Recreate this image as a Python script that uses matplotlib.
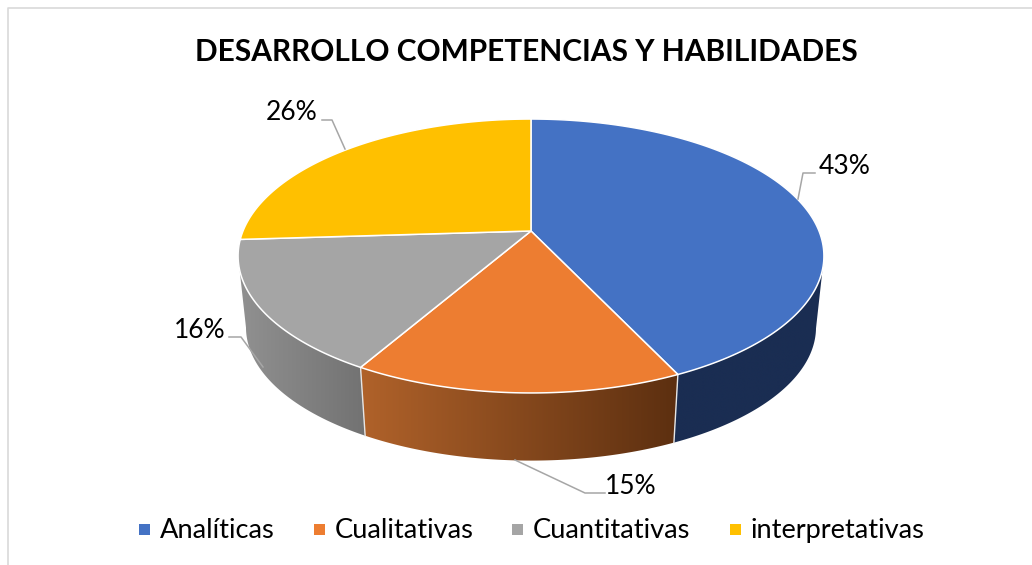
import numpy as np
import matplotlib
matplotlib.use("Agg")
import matplotlib.pyplot as plt
from matplotlib.colors import to_rgb
from matplotlib.patches import Polygon, Rectangle

title = "DESARROLLO COMPETENCIAS Y HABILIDADES"
categories = ["Analíticas", "Cualitativas", "Cuantitativas", "interpretativas"]
values = [43, 15.3, 15.7, 26]
colors = ["#4472c4", "#ed7d31", "#a5a5a5", "#ffc000"]
# side shading, left end and right end of each slice wall
side_left = ["#1a2d52", "#b0622a", "#919191", "#997300"]
side_right = ["#1a2d52", "#5c2f10", "#727272", "#997300"]

label_pos = [(845, 167), (631, 487), (200, 331), (292, 113)]
leaders = [
    [(815, 173), (803, 173), (798, 199)],
    [(605, 493), (585, 493), (515, 460)],
    [(229, 337), (241, 337), (263, 367)],
    [(322, 120), (332, 120), (345, 149)],
]
legend_x = [139, 314, 512, 730]

plt.rcParams['font.family'] = ['Lato', 'DejaVu Sans']

fig = plt.figure(figsize=(10.32, 5.65), dpi=100)
ax = fig.add_axes([0, 0, 1, 1])
ax.set_xlim(0, 1032)
ax.set_ylim(565, 0)
ax.axis('off')

# perspective projection of the pie disc
CX, CY = 531, 231
BX, BY = 288, 132.4
K = 0.1825
SHRINK = 0.973
BOTTOM_Y = 303


def top_rim(t):
    u, v = np.sin(t), np.cos(t)
    d = 1 + K * v
    return CX + BX * u / d, CY - BY * v / d


def low_rim(t):
    u, v = np.sin(t), np.cos(t)
    d = 1 + K * v
    return CX + BX * SHRINK * u / d, BOTTOM_Y - BY * SHRINK * v / d


fractions = np.cumsum([0] + values) / sum(values)
angles = fractions * 2 * np.pi

# walls first, the top is painted over them
# only the front part, cos(t) = -K is where the rim turns back
for i in [0, 1, 2]:
    ts = np.linspace(angles[i], angles[i + 1], 300)
    ts = ts[np.cos(ts) <= -K]
    xt, yt = top_rim(ts)
    xb, yb = low_rim(ts)
    pts = list(zip(xt, yt)) + list(zip(xb[::-1], yb[::-1]))
    wall = Polygon(pts, closed=True, facecolor='none', edgecolor='none', transform=ax.transData)
    ax.add_patch(wall)
    left = np.array(to_rgb(side_left[i]))
    right = np.array(to_rgb(side_right[i]))
    f = np.linspace(0, 1, 256)[:, None]
    grad = (left + (right - left) * f)[None, :, :]
    x_min, x_max = min(xt.min(), xb.min()), max(xt.max(), xb.max())
    y_min, y_max = min(yt.min(), yb.min()), max(yt.max(), yb.max())
    im = ax.imshow(grad, extent=(x_min, x_max, y_max, y_min), aspect='auto', zorder=1, interpolation='bilinear')
    im.set_clip_path(wall)
ax.set_xlim(0, 1032)
ax.set_ylim(565, 0)

# white seams down the wall
for a in angles[1:3]:
    xt, yt = top_rim(a)
    xb, yb = low_rim(a)
    ax.plot([xt, xb], [yt, yb], color='#e6e6e6', linewidth=1.0, zorder=2)

# top of the pie
for i in range(len(values)):
    ts = np.linspace(angles[i], angles[i + 1], 200)
    xt, yt = top_rim(ts)
    pts = [(CX, CY)] + list(zip(xt, yt))
    ax.add_patch(Polygon(pts, closed=True, facecolor=colors[i], edgecolor='white', linewidth=1.1,
                         joinstyle='round', zorder=3))

# labels and leader lines
for i in range(len(values)):
    px, py = zip(*leaders[i])
    ax.plot(px, py, color='#a6a6a6', linewidth=1.1, zorder=4)
    ax.text(label_pos[i][0], label_pos[i][1], "%.0f%%" % values[i], fontsize=19, color='black', ha='center', va='center')

ax.text(526, 52, title, fontsize=21.5, fontweight='bold', color='black', ha='center', va='center')

# legend
for i in range(len(categories)):
    ax.add_patch(Rectangle((legend_x[i], 524), 11, 11, facecolor=colors[i], edgecolor='none'))
    ax.text(legend_x[i] + 21, 538, categories[i], fontsize=19.6, color='black', ha='left', va='baseline')

# chart frame, cut off by the image on the right and bottom
ax.plot([8, 8, 1032], [565, 7.5, 7.5], color='#d9d9d9', linewidth=1.2)

fig.savefig("out.png", dpi=100)
